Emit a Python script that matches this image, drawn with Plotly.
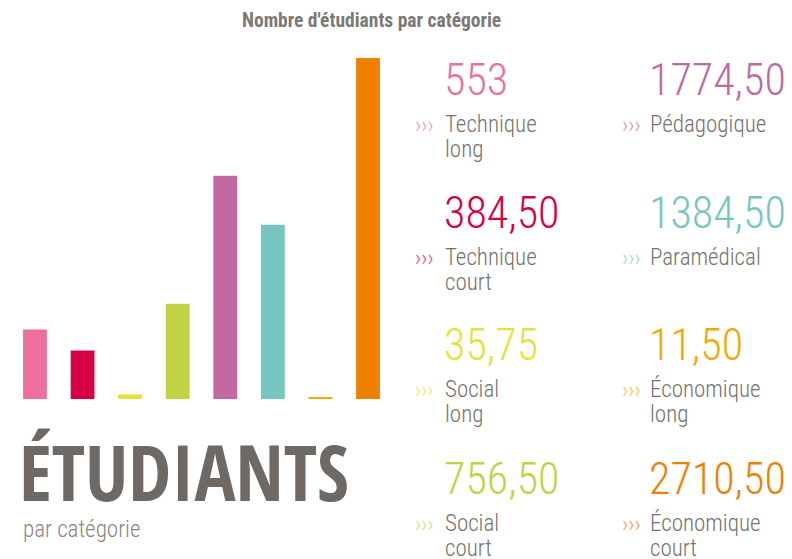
import plotly.graph_objects as go

W, H = 792, 559

categories = ["Technique long", "Technique court", "Social long", "Social court",
              "Pédagogique", "Paramédical", "Économique long", "Économique court"]
label_lines = [["Technique", "long"], ["Technique", "court"], ["Social", "long"], ["Social", "court"],
               ["Pédagogique"], ["Paramédical"], ["Économique", "long"], ["Économique", "court"]]
values = [553, 384.50, 35.75, 756.50, 1774.50, 1384.50, 11.50, 2710.50]
colors = ["#ec6f9d", "#d70045", "#e8e038", "#c1d342", "#c268a2", "#75c6bf", "#f7a800", "#f08000"]

TITLE = "Nombre d'étudiants par catégorie"
BIG = "ÉTUDIANTS"
SUB = "par catégorie"

COND = "Roboto Condensed"
BOLD = "Open Sans Condensed"
GREY = "#77726e"


def fmt(v):
    s = f"{v:.2f}".replace(".", ",")
    return s[:-3] if s.endswith(",00") else s


def px(x):
    return x / W


def py(y):
    return 1 - y / H


fig = go.Figure(go.Bar(
    x=list(range(len(values))), y=values, marker=dict(color=colors, line=dict(width=0)),
    width=0.5, hoverinfo="skip"))


def ann(text, x, y, font, xanchor="left", opacity=1):
    return dict(text=text, x=px(x), y=py(y), xref="paper", yref="paper", xanchor=xanchor,
                yanchor="middle", font=font, showarrow=False, opacity=opacity)


annotations = [
    ann(TITLE, 371, 20, dict(family=COND, size=19.5, weight=700, color="#7d7975"), xanchor="center"),
    ann(BIG, 17, 471, dict(family=BOLD, size=77, weight=700, color="#6e6965")),
    ann(SUB, 21, 529, dict(family=COND, size=23, weight=300, color="#8a8580")),
]

col_x = [445, 650]
arrow_x = [413, 620]
row_num_y = [80, 213, 345, 479]
for i, (v, lines, c) in enumerate(zip(values, label_lines, colors)):
    col, row = i // 4, i % 4
    ny = row_num_y[row]
    annotations.append(ann(fmt(v), col_x[col] - 3, ny, dict(family=COND, size=44, weight=300, color=c)))
    for k, line in enumerate(lines):
        annotations.append(ann(line, col_x[col] - 2, ny + 44 + 25 * k,
                               dict(family=COND, size=23, weight=300, color=GREY)))
    annotations.append(ann("›››", arrow_x[col], ny + 45, dict(family=COND, size=23, weight=300, color=c),
                           opacity=0.75))

fig.update_layout(
    width=W, height=H, margin=dict(l=0, r=0, t=0, b=0),
    paper_bgcolor="white", plot_bgcolor="white", showlegend=False,
    xaxis=dict(domain=[px(11.2), px(391.8)], range=[-0.5, 7.5], visible=False, fixedrange=True),
    yaxis=dict(domain=[py(399), py(53)], range=[0, 2750], visible=False, fixedrange=True),
    annotations=annotations,
)

fig.write_html("out.html", config={"displayModeBar": False},
               post_script="document.body.style.margin='0';")
